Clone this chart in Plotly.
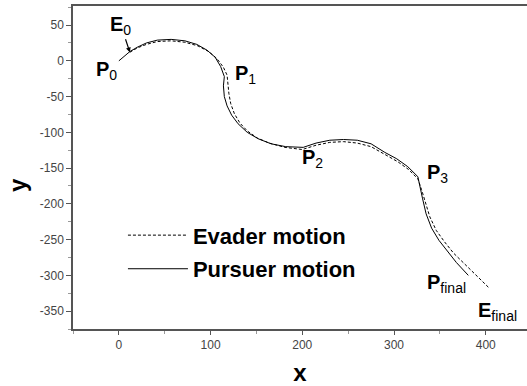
import plotly.graph_objects as go

# Pursuer trajectory (solid)
pursuer_x = [0, 6, 12, 20, 30, 42, 57, 72, 85, 96, 105, 111, 115,
             114, 115, 118, 123, 130, 140, 152, 166, 182, 201,
             215, 230, 245, 260, 275, 290, 303, 315, 326,
             328, 331, 335, 341, 349, 358, 368, 381]
pursuer_y = [0, 7, 13, 19, 25, 29, 30, 28, 23, 15, 5, -8, -22,
             -35, -50, -63, -76, -88, -100, -109, -116, -120, -121,
             -115, -111, -110, -111, -116, -128, -137, -148, -162,
             -176, -192, -214, -234, -251, -266, -282, -300]

# Evader trajectory (dotted)
evader_x = [12, 20, 30, 42, 57, 72, 86, 98, 107, 114, 118, 119, 120, 122, 126, 132, 140, 151, 164, 181, 200,
            215, 230, 245, 260, 275, 290, 304, 316, 326,
            330, 334, 339, 346, 355, 365, 377, 390, 404]
evader_y = [12, 18, 23, 27, 28, 26, 21, 13, 3, -9, -20, -32, -46, -60, -74, -87, -98, -108, -115, -121, -124,
            -118, -114, -113, -115, -120, -131, -141, -152, -165,
            -180, -198, -218, -237, -253, -269, -284, -300, -318]

point_labels = ["<b>P</b><sub>0</sub>", "<b>P</b><sub>1</sub>", "<b>P</b><sub>2</sub>",
                "<b>P</b><sub>3</sub>", "<b>P</b><sub>final</sub>", "<b>E</b><sub>final</sub>"]
label_x = [-14, 138, 211, 347, 357, 413]
label_y = [-13, -19, -137, -158, -311, -350]

font_family = "Liberation Sans, Arial, sans-serif"

fig = go.Figure()
fig.add_trace(go.Scatter(x=evader_x, y=evader_y, mode="lines", name="Evader motion",
                         line=dict(color="black", width=1, dash="3px,2px"), legendgroup="e"))
fig.add_trace(go.Scatter(x=pursuer_x, y=pursuer_y, mode="lines", name="Pursuer motion",
                         line=dict(color="black", width=1), legendgroup="p"))

for t, lx, ly in zip(point_labels, label_x, label_y):
    fig.add_annotation(x=lx, y=ly, text=t, showarrow=False,
                       font=dict(family=font_family, size=20, color="black"))

fig.add_annotation(x=evader_x[0], y=evader_y[0], text="<b>E</b><sub>0</sub>", showarrow=True,
                   ax=-9, ay=-27, arrowhead=2, arrowsize=0.8, arrowwidth=1.2, arrowcolor="black",
                   font=dict(family=font_family, size=20, color="black"))

# y-axis title (placed slightly below the axis centre, as in the reference)
fig.add_annotation(xref="paper", yref="paper", x=-0.121, y=0.446, xanchor="center", yanchor="middle",
                   text="<b>y</b>", showarrow=False,
                   textangle=-90, font=dict(family=font_family, size=24, color="black"))

fig.update_layout(
    width=527, height=386,
    margin=dict(l=73, r=0, t=6, b=57),
    plot_bgcolor="white", paper_bgcolor="white",
    font=dict(family=font_family, color="#333"),
    legend=dict(x=0.11, y=0.355, xanchor="left", yanchor="top", bgcolor="rgba(0,0,0,0)",
                font=dict(family=font_family, size=22, color="black", weight="bold"),
                tracegroupgap=2, itemwidth=60),
    xaxis=dict(range=[-50, 445], tickvals=[0, 100, 200, 300, 400], showgrid=False, zeroline=False,
               showline=True, linecolor="#555", linewidth=1.5, mirror=True,
               ticks="outside", ticklen=4, tickcolor="#555",
               minor=dict(tickvals=[-50, 50, 150, 250, 350], ticks="outside", ticklen=3, tickcolor="#999"),
               tickfont=dict(size=12, color="#444"),
               title=dict(text="<b>x</b>", font=dict(size=24, color="black"), standoff=17)),
    yaxis=dict(range=[-375, 76.7], tickvals=[50, 0, -50, -100, -150, -200, -250, -300, -350],
               ticktext=["50", "0", "-50", "-100", "-150", "-200", "-250", "-300", "-350"],
               showgrid=False, zeroline=False,
               showline=True, linecolor="#555", linewidth=1.5,
               ticks="outside", ticklen=5, tickcolor="#555",
               minor=dict(tickvals=[75, 25, -25, -75, -125, -175, -225, -275, -325, -375],
                          ticks="outside", ticklen=3, tickcolor="#999"),
               tickfont=dict(size=12, color="#444")),
)

fig.write_html("out.html", config={"displayModeBar": False},
               post_script="document.body.style.margin='0';document.body.style.overflow='hidden';")
